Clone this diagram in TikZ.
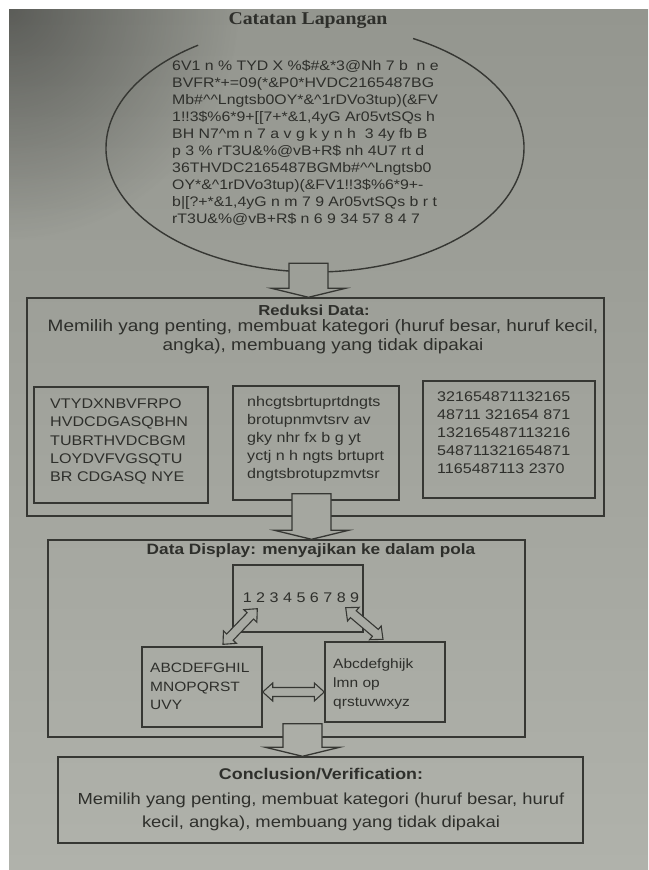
\documentclass[tikz,border=0pt]{standalone}
\usepackage{fontspec}
\setmainfont{Liberation Sans}[FakeStretch=1.15]
\newfontfamily\titleserif{Liberation Serif}[FakeStretch=1.1]
\usetikzlibrary{shapes.geometric,calc,fadings}
\definecolor{bgtop}{HTML}{94968F}
\definecolor{bgbot}{HTML}{B0B2AB}
\definecolor{ink}{HTML}{363733}
\definecolor{inkt}{HTML}{2E2F2B}
\pgfdeclareverticalshading{pageshade}{100bp}{color(0bp)=(bgbot); color(25bp)=(bgbot); color(75bp)=(bgtop); color(100bp)=(bgtop)}
\tikzfading[name=cornerfade, inner color=transparent!0, outer color=transparent!100]
\newcommand\fsz[2]{\fontsize{#1pt}{#2pt}\selectfont}
\newcommand\blockdown[3]{%
  \path[draw=ink, line width=1.3pt, fill=#3, line join=miter] let \p1=#1, \p2=#2 in
  (\x2-19.5pt,\y1) -- (\x2+19.5pt,\y1) -- (\x2+19.5pt,\y2+9pt) -- (\x2+37pt,\y2+9pt)
  -- (\x2,\y2) -- (\x2-37pt,\y2+9pt) -- (\x2-19.5pt,\y2+9pt) -- cycle;}
% double block arrow between two named coordinates: #1 from, #2 to, #3 fill
\newcommand\twohead[3]{%
  \path[draw=ink, line width=1.1pt, fill=#3, line join=miter]
  (#1) -- ($(#1)!10pt!(#2)!9pt!90:(#2)$) -- ($(#1)!10pt!(#2)!4.5pt!90:(#2)$)
  -- ($(#2)!10pt!(#1)!4.5pt!-90:(#1)$) -- ($(#2)!10pt!(#1)!9pt!-90:(#1)$)
  -- (#2) -- ($(#2)!10pt!(#1)!9pt!90:(#1)$) -- ($(#2)!10pt!(#1)!4.5pt!90:(#1)$)
  -- ($(#1)!10pt!(#2)!4.5pt!-90:(#2)$) -- ($(#1)!10pt!(#2)!9pt!-90:(#2)$) -- cycle;}
\begin{document}
\begin{tikzpicture}[x=1pt,y=-1pt,
  box/.style={draw=ink, line width=1.4pt, inner sep=0pt},
  txt/.style={text=inkt, inner sep=0pt}]
\useasboundingbox (0,0) rectangle (648,870);
% page
\fill[white] (0,0) rectangle (648,870);
\shade[shading=pageshade] (9,9) rectangle (648,870);
\begin{scope}
  \clip (9,9) rectangle (648,870);
  \fill[black, opacity=0.38, path fading=cornerfade] (9,9) circle (230pt);
\end{scope}
% field notes
\node[ellipse, minimum width=418pt, minimum height=248pt, inner sep=0pt] (notes) at (315,148) {};
\draw[draw=ink, line width=1.4pt] ($(notes.center)+(124:209pt and 124pt)$)
  arc[start angle=124, end angle=422, x radius=209pt, y radius=124pt];
\node[txt, font=\titleserif\bfseries\fsz{18}{20}] (title) at (308,21) {Catatan Lapangan};
\node[txt, anchor=west, align=left, font=\fsz{13.8}{17}] (raw) at (172,142.5)
 {6V1 n \% TYD X \%\$\#\&*3@Nh 7 b\ \ n e\\
  BVFR*+=09(*\&P0*HVDC2165487BG\\
  Mb\#\textasciicircum\textasciicircum Lngtsb0OY*\&\textasciicircum 1rDVo3tup)(\&FV\\
  1!!3\$\%6*9+[[7+*\&1,4yG Ar05vtSQs h\\
  BH N7\textasciicircum m n 7 a v g k y n h\ \ 3 4y fb B\\
  p 3 \% rT3U\&\%@vB+R\$ nh 4U7 rt d\\
  36THVDC2165487BGMb\#\textasciicircum\textasciicircum Lngtsb0\\
  OY*\&\textasciicircum 1rDVo3tup)(\&FV1!!3\$\%6*9+-\\
  b|[?+*\&1,4yG n m 7 9 Ar05vtSQs b r t\\
  rT3U\&\%@vB+R\$ n 6 9 34 57 8 4 7};
% reduction
\node[box, minimum width=577pt, minimum height=218pt] (red) at (315.5,407) {};
\node[txt, font=\bfseries\fsz{14.5}{17}] (redtitle) at (314,310) {Reduksi Data:};
\node[txt, align=center, font=\fsz{16.5}{19}] (redtext) at (323,337)
 {Memilih yang penting, membuat kategori (huruf besar, huruf kecil,\\ angka), membuang yang tidak dipakai};
\node[box, minimum width=174pt, minimum height=116pt] (upper) at (121,445) {};
\node[box, minimum width=166pt, minimum height=114pt] (mid) at (316,443) {};
\node[box, minimum width=172pt, minimum height=117pt] (nums) at (509,439.5) {};
\node[txt, anchor=west, align=left, font=\fsz{14}{18.2}] (uppertext) at (50,441.5)
 {VTYDXNBVFRPO\\HVDCDGASQBHN\\TUBRTHVDCBGM\\LOYDVFVGSQTU\\BR CDGASQ NYE};
\node[txt, anchor=west, align=left, font=\fsz{14}{18}] (midtext) at (247,439)
 {nhcgtsbrtuprtdngts\\brotupnmvtsrv av\\gky nhr fx b g yt\\yctj n h ngts brtuprt\\dngtsbrotupzmvtsr};
\node[txt, anchor=west, align=left, font=\fsz{14}{18}] (numstext) at (437,433)
 {321654871132165\\48711 321654 871\\132165487113216\\548711321654871\\1165487113 2370};
% display
\node[box, minimum width=477pt, minimum height=197pt] (disp) at (286.5,638.5) {};
\node[txt, font=\bfseries\fsz{15}{17}] (disptitle) at (311,551) {Data Display: menyajikan ke dalam pola};
\node[box, minimum width=130pt, minimum height=67pt] (digitbox) at (298,598.5) {};
\node[txt, font=\fsz{14}{16}] (digits) at (301,598) {1 2 3 4 5 6 7 8 9};
\node[box, minimum width=120pt, minimum height=80pt] (caps) at (202,687) {};
\node[box, minimum width=120pt, minimum height=80pt] (lower) at (385,682) {};
\node[txt, anchor=west, align=left, font=\fsz{13.5}{18.5}] (capstext) at (150,686.5)
 {ABCDEFGHIL\\MNOPQRST\\UVY};
\node[txt, anchor=west, align=left, font=\fsz{13.5}{19}] (lowertext) at (333,684)
 {Abcdefghijk\\lmn op\\qrstuvwxyz};
% conclusion
\node[box, minimum width=525pt, minimum height=86pt] (concl) at (320.5,800) {};
\node[txt, font=\bfseries\fsz{15.5}{17}] (concltitle) at (321,774) {Conclusion/Verification:};
\node[txt, align=center, font=\fsz{16}{23}] (concltext) at (321,811.5)
 {Memilih yang penting, membuat kategori (huruf besar, huruf\\ kecil, angka), membuang yang tidak dipakai};
% block arrows
\blockdown{($(notes.south)+(-7,-9)$)}{($(red.north)+(-7,0)$)}{bgbot!32!bgtop}
\blockdown{($(mid.south)+(-4,-7)$)}{($(disp.north)+(25,0)$)}{bgbot!59!bgtop}
\blockdown{($(disp.south)+(16,-14)$)}{($(concl.north)+(-18,0)$)}{bgbot!85!bgtop}
% double arrows
\coordinate (la) at ($(caps.north)+(21,-2)$);
\coordinate (lb) at ($(digitbox.south west)+(25,-24)$);
\coordinate (ra) at ($(digitbox.south east)+(-18,-25)$);
\coordinate (rb) at ($(lower.north)+(-2,-2)$);
\coordinate (ha) at ($(caps.east)+(0,5)$);
\coordinate (hb) at ($(lower.west)+(0,10)$);
\twohead{la}{lb}{bgbot!72!bgtop}
\twohead{ra}{rb}{bgbot!72!bgtop}
\twohead{ha}{hb}{bgbot!78!bgtop}
\end{tikzpicture}
\end{document}
